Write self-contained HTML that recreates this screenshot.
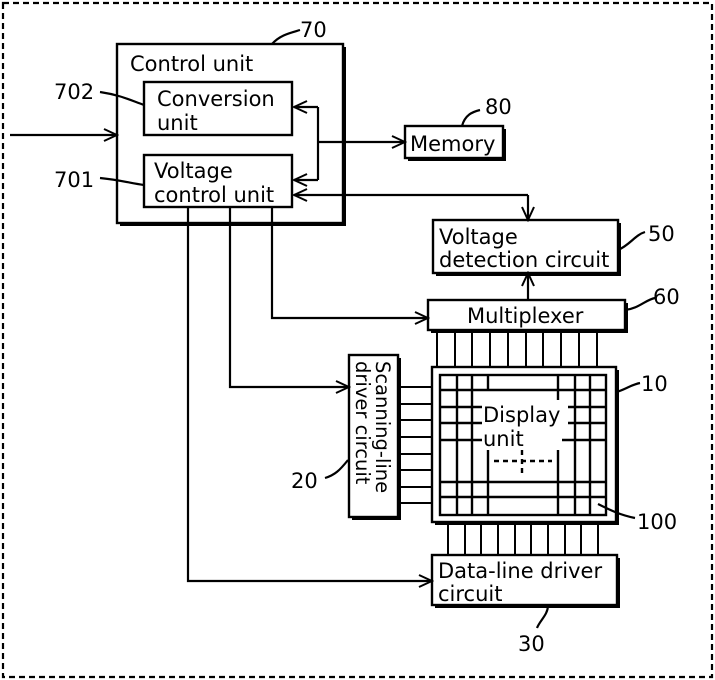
<!DOCTYPE html>
<html><head><meta charset="utf-8"><style>
html,body{margin:0;padding:0;background:#fff}
svg{display:block}
text{font-family:"DejaVu Sans","Liberation Sans",sans-serif;font-size:21px;fill:#000}
</style></head><body>
<svg width="715" height="680" viewBox="0 0 715 680" xmlns="http://www.w3.org/2000/svg">
<defs>
<marker id="a" markerWidth="16" markerHeight="14" refX="14" refY="7" orient="auto" markerUnits="userSpaceOnUse">
<path d="M1,1 L14,7 L1,13" fill="none" stroke="#000" stroke-width="2"/>
</marker>
</defs>
<rect x="3" y="3" width="709" height="674" fill="none" stroke="#000" stroke-width="2.2" stroke-dasharray="6,4"/>
<g fill="none" stroke="#000" stroke-width="2.4">
<g stroke="none" fill="#000">
<rect x="120" y="47" width="226" height="179"/>
<rect x="147" y="85" width="148" height="53"/>
<rect x="147" y="158" width="148" height="52"/>
<rect x="408" y="129" width="98" height="32"/>
<rect x="436" y="223" width="185" height="53"/>
<rect x="431" y="303" width="197" height="30"/>
<rect x="352" y="358" width="49" height="162"/>
<rect x="435" y="370" width="184" height="155"/>
<rect x="435" y="558" width="185" height="50"/>
</g>
<rect x="117" y="44" width="226" height="179" fill="#fff"/>
<rect x="144" y="82" width="148" height="53" fill="#fff"/>
<rect x="144" y="155" width="148" height="52" fill="#fff"/>
<rect x="405" y="126" width="98" height="32" fill="#fff"/>
<rect x="433" y="220" width="185" height="53" fill="#fff"/>
<rect x="428" y="300" width="197" height="30" fill="#fff"/>
<rect x="349" y="355" width="49" height="162" fill="#fff"/>
<rect x="432" y="367" width="184" height="155" fill="#fff"/>
<rect x="432" y="555" width="185" height="50" fill="#fff"/>
</g>
<g fill="none" stroke="#000" stroke-width="2.2">
<line x1="10" y1="135" x2="117" y2="135" marker-end="url(#a)"/>
<polyline points="318,107 318,180"/>
<line x1="318" y1="107" x2="294" y2="107" marker-end="url(#a)"/>
<line x1="318" y1="180" x2="294" y2="180" marker-end="url(#a)"/>
<line x1="318" y1="142" x2="405" y2="142" marker-end="url(#a)"/>
<line x1="528" y1="195" x2="294" y2="195" marker-end="url(#a)"/>
<line x1="528" y1="195" x2="528" y2="220" marker-end="url(#a)"/>
<line x1="528" y1="300" x2="528" y2="273" marker-end="url(#a)"/>
<polyline points="272,207 272,318 428,318" marker-end="url(#a)"/>
<polyline points="230,207 230,387 349,387" marker-end="url(#a)"/>
<polyline points="188,207 188,581 432,581" marker-end="url(#a)"/>
<path d="M272,44 C280,35 290,33 300,30"/>
<path d="M100,92 C120,95 130,100 144,105"/>
<path d="M100,178 C120,180 130,183 144,185"/>
<path d="M462,126 C465,115 472,112 480,110"/>
<path d="M618,250 C630,245 635,235 645,232"/>
<path d="M625,310 C640,308 645,300 655,298"/>
<path d="M616,392 C625,390 630,385 640,383"/>
<path d="M598,504 C610,510 620,515 635,518"/>
<path d="M348,460 C340,470 335,475 325,478"/>
<path d="M548,605 C548,615 540,620 537,628"/>
</g>
<g stroke="#000" stroke-width="2">
<line x1="437" y1="330" x2="437" y2="367"/><line x1="455" y1="330" x2="455" y2="367"/><line x1="472" y1="330" x2="472" y2="367"/><line x1="490" y1="330" x2="490" y2="367"/><line x1="508" y1="330" x2="508" y2="367"/><line x1="526" y1="330" x2="526" y2="367"/><line x1="543" y1="330" x2="543" y2="367"/><line x1="561" y1="330" x2="561" y2="367"/><line x1="579" y1="330" x2="579" y2="367"/><line x1="597" y1="330" x2="597" y2="367"/>
<line x1="448" y1="522" x2="448" y2="555"/><line x1="465" y1="522" x2="465" y2="555"/><line x1="481" y1="522" x2="481" y2="555"/><line x1="498" y1="522" x2="498" y2="555"/><line x1="515" y1="522" x2="515" y2="555"/><line x1="531" y1="522" x2="531" y2="555"/><line x1="548" y1="522" x2="548" y2="555"/><line x1="565" y1="522" x2="565" y2="555"/><line x1="581" y1="522" x2="581" y2="555"/><line x1="598" y1="522" x2="598" y2="555"/>
<line x1="398" y1="387" x2="432" y2="387"/><line x1="398" y1="404" x2="432" y2="404"/><line x1="398" y1="420" x2="432" y2="420"/><line x1="398" y1="437" x2="432" y2="437"/><line x1="398" y1="454" x2="432" y2="454"/><line x1="398" y1="470" x2="432" y2="470"/><line x1="398" y1="487" x2="432" y2="487"/><line x1="398" y1="503" x2="432" y2="503"/>
</g>
<g stroke="#000" stroke-width="2.4" fill="none">
<rect x="440" y="375" width="166" height="140"/>
<line x1="457" y1="375" x2="457" y2="515"/><line x1="472" y1="375" x2="472" y2="515"/>
<line x1="575" y1="375" x2="575" y2="515"/><line x1="590" y1="375" x2="590" y2="515"/>
<line x1="488" y1="375" x2="488" y2="390"/><line x1="488" y1="450" x2="488" y2="515"/>
<line x1="558" y1="375" x2="558" y2="400"/><line x1="558" y1="450" x2="558" y2="515"/>
<line x1="440" y1="390" x2="606" y2="390"/>
<line x1="440" y1="407" x2="482" y2="407"/><line x1="568" y1="407" x2="606" y2="407"/>
<line x1="440" y1="423" x2="482" y2="423"/><line x1="568" y1="423" x2="606" y2="423"/>
<line x1="440" y1="440" x2="482" y2="440"/><line x1="562" y1="440" x2="606" y2="440"/>
<line x1="440" y1="482" x2="606" y2="482"/><line x1="440" y1="497" x2="606" y2="497"/>
<line x1="494" y1="461" x2="552" y2="461" stroke-dasharray="5,4"/>
<line x1="522" y1="450" x2="522" y2="476" stroke-dasharray="5,4"/>
</g>
<text x="130" y="71">Control unit</text>
<text x="157" y="106">Conversion</text>
<text x="157" y="130">unit</text>
<text x="154" y="178">Voltage</text>
<text x="154" y="202">control unit</text>
<text x="410" y="151">Memory</text>
<text x="439" y="244">Voltage</text>
<text x="439" y="267">detection circuit</text>
<text x="467" y="323">Multiplexer</text>
<text x="483" y="422">Display</text>
<text x="483" y="446">unit</text>
<text x="438" y="578">Data-line driver</text>
<text x="438" y="601">circuit</text>
<g transform="translate(376,361) rotate(90)"><text x="0" y="0" style="font-size:19.5px">Scanning-line</text></g>
<g transform="translate(356,361) rotate(90)"><text x="0" y="0" style="font-size:19.5px">driver circuit</text></g>
<text x="300" y="37">70</text>
<text x="54" y="99">702</text>
<text x="54" y="187">701</text>
<text x="485" y="114">80</text>
<text x="648" y="241">50</text>
<text x="653" y="304">60</text>
<text x="641" y="391">10</text>
<text x="637" y="529">100</text>
<text x="291" y="488">20</text>
<text x="518" y="651">30</text>
</svg>
</body></html>
